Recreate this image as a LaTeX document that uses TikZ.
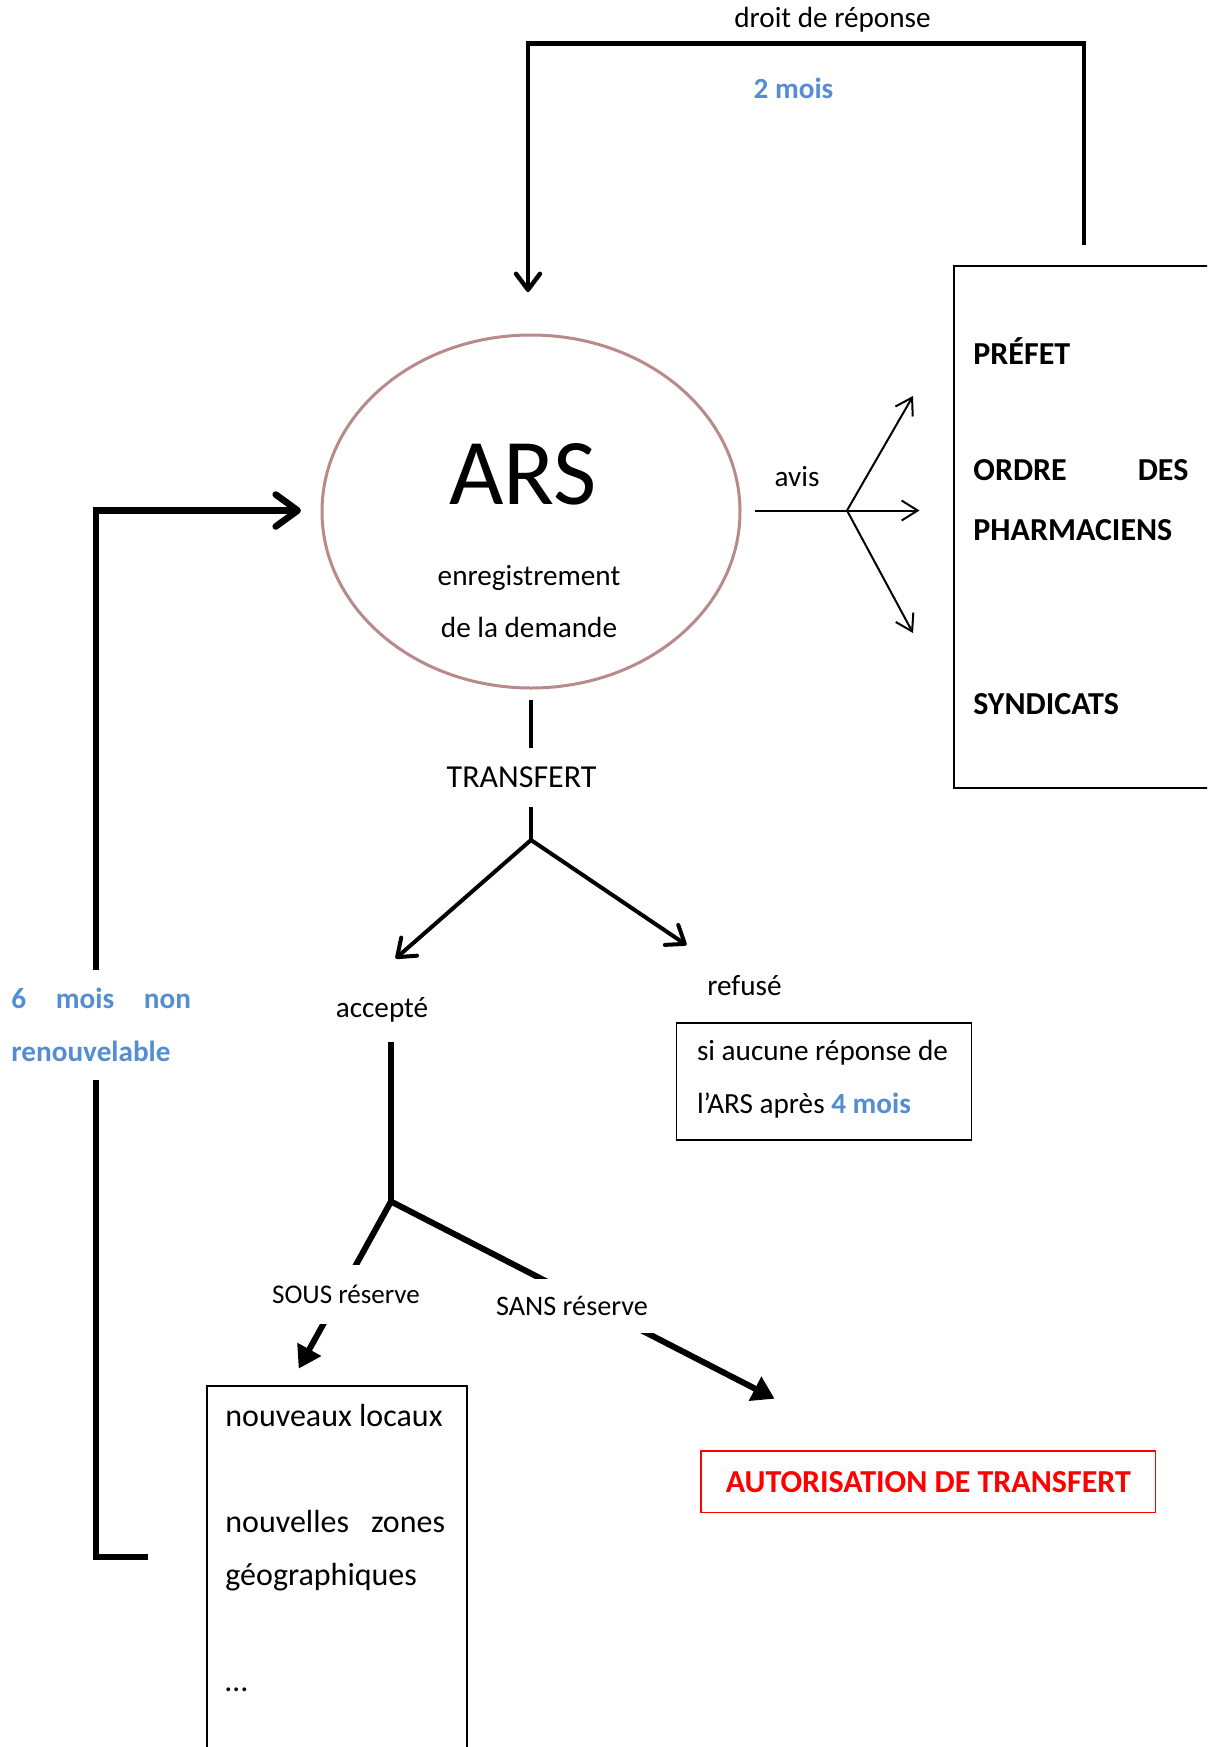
\documentclass[tikz,border=0pt]{standalone}
\usepackage{fontspec}
\setmainfont{Carlito}
\usetikzlibrary{arrows.meta,shapes.geometric,calc}
\definecolor{bluetxt}{RGB}{84,141,212}
\definecolor{arscol}{RGB}{184,138,138}
\begin{document}
\begin{tikzpicture}[x=0.5pt,y=-0.5pt,
 lbl/.style={inner sep=0pt,anchor=base},
 lblw/.style={inner sep=0pt,anchor=base west},
 reg/.style={font=\fontsize{14.6}{17}\selectfont},
 regb/.style={font=\fontsize{16}{19}\selectfont},
 bld/.style={font=\bfseries\fontsize{16}{19}\selectfont},
 bluelbl/.style={text=bluetxt,font=\bfseries\fontsize{14.6}{17}\selectfont},
 boxline/.style={draw=black,line width=0.75pt,inner sep=0pt},
 thinarr/.style={line width=1pt,-{Straight Barb[length=8pt,width=10pt]}},
 toparr/.style={line width=2.2pt,-{Straight Barb[round,length=8pt,width=12pt]}},
 stemline/.style={line width=2pt},
 brarr/.style={line width=2pt,-{Straight Barb[round,length=8pt,width=12pt]}},
 looparr/.style={line width=3.3pt,-{Straight Barb[round,length=11pt,width=16pt]}},
 heavyline/.style={line width=3pt},
 heavyarr/.style={line width=3pt,-{Triangle[length=11pt,width=13pt]}},
 gaplbl/.style={fill=white,inner xsep=3pt,inner ysep=0pt}
]
\fill[white] (0,0) rectangle (1207,1747);
\useasboundingbox (0,0) rectangle (1207,1747);
\clip (0,0) rectangle (1207,1747);

% ARS ellipse
\node[ellipse,draw=arscol,line width=1.5pt,minimum width=209pt,minimum height=176.5pt,inner sep=0pt] (ars) at (531,511.5) {};
\node[lbl,font=\fontsize{47}{50}\selectfont] (arstitle) at (523,504) {ARS};
\node[lbl,reg] (enr1) at (529,585) {enregistrement};
\node[lbl,reg] (enr2) at (529,637) {de la demande};

% right box
\node[boxline,anchor=north west,minimum width=138.5pt,minimum height=261pt] (avisbox) at (953,265) {};
\node[lblw,bld] (prefet) at (973,364) {PRÉFET};
\node[lblw,bld] (ordre) at (973,480) {\hbox to 107.5pt{ORDRE\hfill DES}};
\node[lblw,bld] (pharma) at (973,540) {PHARMACIENS};
\node[lblw,bld] (synd) at (973,714) {SYNDICATS};

% avis
\coordinate (avisstart) at ($(ars.east)+(13,-1)$);
\coordinate (avisfork) at (847,510.5);
\coordinate (avisup) at (913,396);
\coordinate (avismid) at (919.5,510.5);
\coordinate (avisdown) at (913,633);
\draw[line width=1pt] (avisstart) -- (avisfork);
\draw[thinarr] (avisfork) -- (avisup);
\draw[thinarr] (avisfork) -- (avismid);
\draw[thinarr] (avisfork) -- (avisdown);
\node[lbl,reg] (avis) at (797,486) {avis};

% top loop
\coordinate (topstart) at (1084,245);
\coordinate (topright) at (1084,43.5);
\coordinate (topleft) at (528,43.5);
\coordinate (toptip) at (528,292);
\draw[toparr] (topstart) -- (topright) -- (topleft) -- (toptip);
\node[lbl,reg] (droit) at (832.5,27) {droit de réponse};
\node[lbl,bluelbl] (deuxmois) at (793.5,98) {2 mois};

% transfert
\coordinate (tstart) at ($(ars.south)+(0,10)$);
\coordinate (tfork) at (531,840);
\draw[stemline] (tstart) -- (tfork);
\node[gaplbl,minimum height=29.5pt,font=\fontsize{16}{19}\selectfont] (transfert) at (521.6,777.5) {TRANSFERT};
\coordinate (acctip) at (395.6,958.5);
\coordinate (reftip) at (686.5,945);
\draw[brarr] (tfork) -- (acctip);
\draw[brarr] (tfork) -- (reftip);
\node[lbl,reg] (accepte) at (382,1017) {accepté};
\node[lbl,reg] (refuse) at (744.5,995) {refusé};

% refused box
\node[boxline,minimum width=147.5pt,minimum height=58.6pt] (refbox) at (824.2,1081.4) {};
\node[lblw,reg] (ref1) at (696.6,1060) {si aucune réponse de};
\node[lblw,reg] (ref2) at (696.6,1113) {l’ARS après \textcolor{bluetxt}{\bfseries 4 mois}};

% accepte branch
\coordinate (astemtop) at (391,1042);
\coordinate (afork) at (391,1201.5);
\draw[heavyline] (astemtop) -- (afork);
\coordinate (soustip) at (298.7,1368.6);
\coordinate (sanstip) at (774.6,1398.7);
\draw[heavyarr] (afork) -- (soustip);
\draw[heavyarr] (afork) -- (sanstip);
\node[gaplbl,minimum height=29.5pt,font=\fontsize{13.5}{16}\selectfont] (sous) at (346,1294.5) {SOUS réserve};
\node[gaplbl,minimum height=27pt,font=\fontsize{14.1}{17}\selectfont] (sans) at (572,1306) {SANS réserve};

% bottom-left box
\node[boxline,anchor=north west,minimum width=130pt,minimum height=200pt] (soubox) at (206,1385) {};
\node[lblw,regb] (loc1) at (225,1426) {nouveaux locaux};
\node[lblw,regb] (loc2) at (225,1532) {\hbox to 109.85pt{nouvelles\hfill zones}};
\node[lblw,regb] (loc3) at (225,1585) {géographiques};
\node[lblw,regb] (loc4) at (225,1691) {…};

% authorisation
\node[draw=red,line width=0.75pt,minimum width=227.35pt,minimum height=30.7pt,inner sep=0pt,text=red,font=\bfseries\fontsize{16}{19}\selectfont] (auth) at (928.35,1481.7) {AUTORISATION DE TRANSFERT};

% left loop
\coordinate (loopstart) at (148,1557);
\coordinate (loopbl) at (95.8,1557);
\coordinate (looptl) at (95.8,510.5);
\coordinate (looptip) at (301,510.5);
\draw[looparr] (loopstart) -- (loopbl) -- (looptl) -- (looptip);
\node[fill=white,inner xsep=0pt,inner ysep=9pt,anchor=north west,text width=89.8pt,align=left,text=bluetxt,font=\bfseries\fontsize{14.6}{26.5}\selectfont] (sixmois) at (11,970) {\hbox to 89.8pt{6\hfill mois\hfill non}\\renouvelable};
\end{tikzpicture}
\end{document}
